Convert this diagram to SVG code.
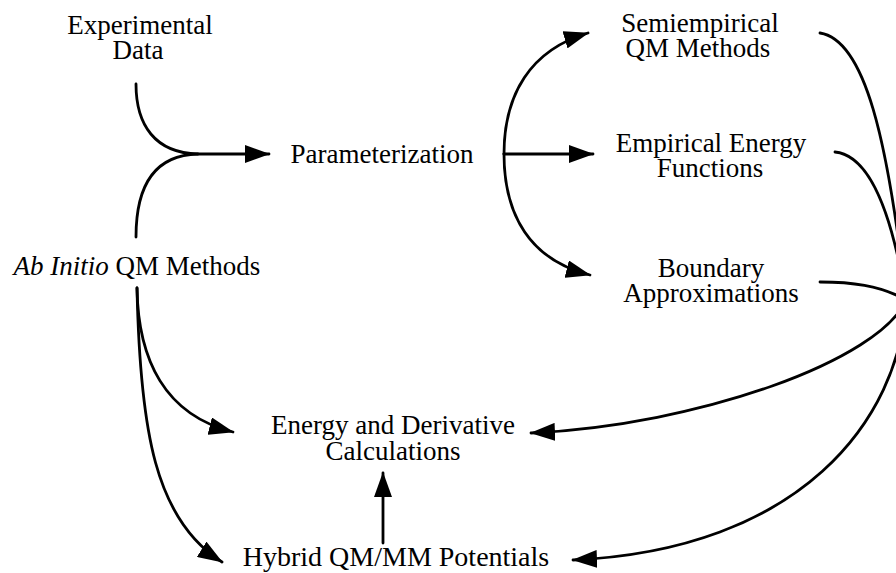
<svg xmlns="http://www.w3.org/2000/svg" width="896" height="573" viewBox="0 0 896 573">
<defs>
<marker id="ah" viewBox="0 0 25 18" refX="24" refY="9" markerWidth="25" markerHeight="18" markerUnits="userSpaceOnUse" orient="auto">
<path d="M0,0 L25,9 L0,18 Z" fill="#000"/>
</marker>
<style>
text{font-family:"Liberation Serif","Times New Roman",serif;font-size:27px;fill:#000;text-anchor:middle}
.c{fill:none;stroke:#000;stroke-width:2.8;stroke-linecap:round}
.a{marker-end:url(#ah)}
</style>
</defs>
<rect width="896" height="573" fill="#fff"/>
<g id="exp"><text x="140" y="34">Experimental</text><text x="138" y="59">Data</text></g>
<g id="param"><text x="382" y="163">Parameterization</text></g>
<g id="abinitio"><text x="137" y="275"><tspan font-style="italic">Ab Initio</tspan> QM Methods</text></g>
<g id="semi"><text x="700" y="32">Semiempirical</text><text x="698" y="57">QM Methods</text></g>
<g id="empirical"><text x="711" y="152">Empirical Energy</text><text x="710" y="177">Functions</text></g>
<g id="boundary"><text x="711" y="277">Boundary</text><text x="711" y="302">Approximations</text></g>
<g id="energy"><text x="393" y="434">Energy and Derivative</text><text x="393" y="460">Calculations</text></g>
<g id="hybrid"><text x="396" y="566" style="font-size:28px">Hybrid QM/MM Potentials</text></g>
<g id="connectors">
<path class="c" d="M136,84 C136,125 155,153 198,154"/>
<path class="c a" d="M136,237 C136,185 155,155 198,154 L269,154"/>
<path class="c a" d="M504,154 C504,95 530,50 588,33"/>
<path class="c a" d="M504,154 L593,154"/>
<path class="c a" d="M504,154 C504,215 530,260 590,275"/>
<path class="c a" d="M137,288 C138,360 165,415 233,432"/>
<path class="c a" d="M137,288 C140,430 155,520 222,562"/>
<path class="c a" d="M383,543 L383,473"/>
<path class="c" d="M820,33 C865,40 888,140 906,300"/>
<path class="c" d="M835,152 C865,155 890,200 906,300"/>
<path class="c" d="M820,282 C850,282 880,285 906,300"/>
<path class="c a" d="M906,300 C880,360 700,425 531,433"/>
<path class="c a" d="M906,300 C900,420 800,550 573,560"/>
</g>
</svg>
